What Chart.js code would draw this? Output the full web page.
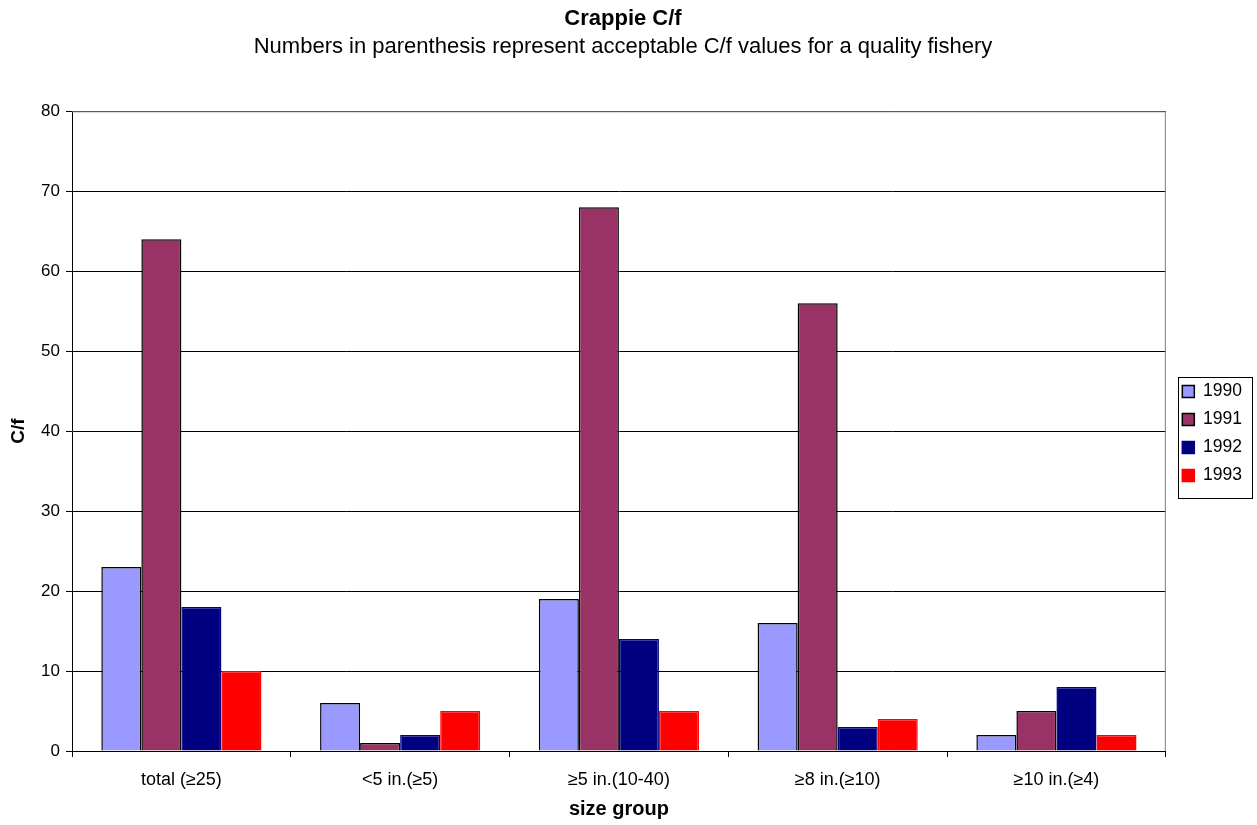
<!DOCTYPE html>
<html>
<head>
<meta charset="utf-8">
<script src="https://cdn.jsdelivr.net/npm/chart.js@4/dist/chart.umd.min.js"></script>
<style>
  html, body { margin: 0; padding: 0; background: #fff; }
  #wrap { width: 1257px; height: 825px; position: relative; }
</style>
</head>
<body>
<div id="wrap"><canvas id="c" width="1257" height="825"></canvas></div>
<script>
// Size groups (acceptable C/f for a quality fishery in parentheses)
const categories = ['total (\u226525)', '<5 in.(\u22655)', '\u22655 in.(10-40)', '\u22658 in.(\u226510)', '\u226510 in.(\u22654)'];
const years = ['1990', '1991', '1992', '1993'];
const cf1990 = [23, 6, 19, 16, 2];
const cf1991 = [64, 1, 68, 56, 5];
const cf1992 = [18, 2, 14, 3, 8];
const cf1993 = [10, 5, 5, 4, 2];
const yTicks = [0, 10, 20, 30, 40, 50, 60, 70, 80];

const FONT = "'Liberation Sans', Arial, sans-serif";

// Frame around the plot area plus a bordered legend, nudged next to the plot centre
const framePlugin = {
  id: 'frame',
  afterLayout(chart) {
    const lg = chart.legend;
    if (!lg) return;
    const dx = 6, dy = 21;
    lg.left += dx; lg.right += dx;
    lg.top += dy; lg.bottom += dy;
  },
  beforeDatasetsDraw(chart) {
    const a = chart.chartArea, ctx = chart.ctx;
    ctx.save();
    ctx.strokeStyle = '#808080';
    ctx.lineWidth = 1;
    ctx.beginPath();
    ctx.moveTo(a.left, a.top + 0.5);
    ctx.lineTo(a.right - 0.5, a.top + 0.5);
    ctx.lineTo(a.right - 0.5, a.bottom);
    ctx.stroke();
    ctx.restore();
  },
  afterDraw(chart) {
    const boxes = chart.legend && chart.legend.legendHitBoxes;
    if (!boxes || !boxes.length) return;
    let l = Infinity, t = Infinity, b = -Infinity;
    boxes.forEach(h => {
      l = Math.min(l, h.left); t = Math.min(t, h.top);
      b = Math.max(b, h.top + h.height);
    });
    const ctx = chart.ctx;
    ctx.save();
    ctx.strokeStyle = '#000';
    ctx.lineWidth = 1;
    ctx.strokeRect(Math.round(l - 4) + 0.5, Math.round(t - 6) + 0.5, 74, Math.round(b - t + 19));
    ctx.restore();
  }
};

const seriesValues = [cf1990, cf1991, cf1992, cf1993];
const fills = ['#9999FF', '#993366', '#000080', '#FF0000'];
const edges = ['#000000', '#000000', '#000080', '#FF0000'];

new Chart(document.getElementById('c'), {
  type: 'bar',
  data: {
    labels: categories,
    datasets: years.map((y, i) => ({
      label: y,
      data: seriesValues[i],
      backgroundColor: fills[i],
      borderColor: edges[i],
      borderWidth: 1.5,
      barPercentage: 1.0,
      categoryPercentage: 0.732
    }))
  },
  options: {
    responsive: false,
    animation: false,
    devicePixelRatio: 1,
    layout: { padding: { left: 0, right: 11, top: 0, bottom: 0 } },
    plugins: {
      title: {
        display: true,
        text: 'Crappie C/f',
        color: '#000',
        font: { family: FONT, size: 22, weight: 'bold' },
        padding: { top: 6, bottom: 0 }
      },
      subtitle: {
        display: true,
        text: 'Numbers in parenthesis represent acceptable C/f values for a quality fishery',
        color: '#000',
        font: { family: FONT, size: 22, weight: 'normal' },
        padding: { top: 1.5, bottom: 51 }
      },
      legend: {
        position: 'right',
        labels: {
          color: '#000',
          font: { family: FONT, size: 17.5 },
          boxWidth: 12,
          boxHeight: 12,
          padding: 10.5
        }
      },
      tooltip: { enabled: false }
    },
    scales: {
      x: {
        offset: true,
        grid: { display: true, drawOnChartArea: false, drawTicks: true, tickLength: 6, color: '#000', offset: true },
        border: { display: true, color: '#000', width: 1 },
        ticks: { color: '#000', font: { family: FONT, size: 18 }, padding: 12, maxRotation: 0 },
        title: { display: true, text: 'size group', color: '#000', font: { family: FONT, size: 20, weight: 'bold' }, padding: { top: 6, bottom: 4 } },
        afterFit(s) { s.height = 74; }
      },
      y: {
        min: 0,
        max: 80,
        afterBuildTicks(s) { s.ticks = yTicks.map(v => ({ value: v })); },
        grid: { color: '#000', lineWidth: 1, drawTicks: true, tickLength: 6 },
        border: { display: true, color: '#000', width: 1 },
        ticks: { color: '#000', font: { family: FONT, size: 17 }, padding: 6 },
        title: { display: true, text: 'C/f', color: '#000', font: { family: FONT, size: 19, weight: 'bold' }, padding: { top: 7, bottom: 6 } },
        afterFit(s) { s.width = 72; }
      }
    }
  },
  plugins: [framePlugin]
});
</script>
</body>
</html>
